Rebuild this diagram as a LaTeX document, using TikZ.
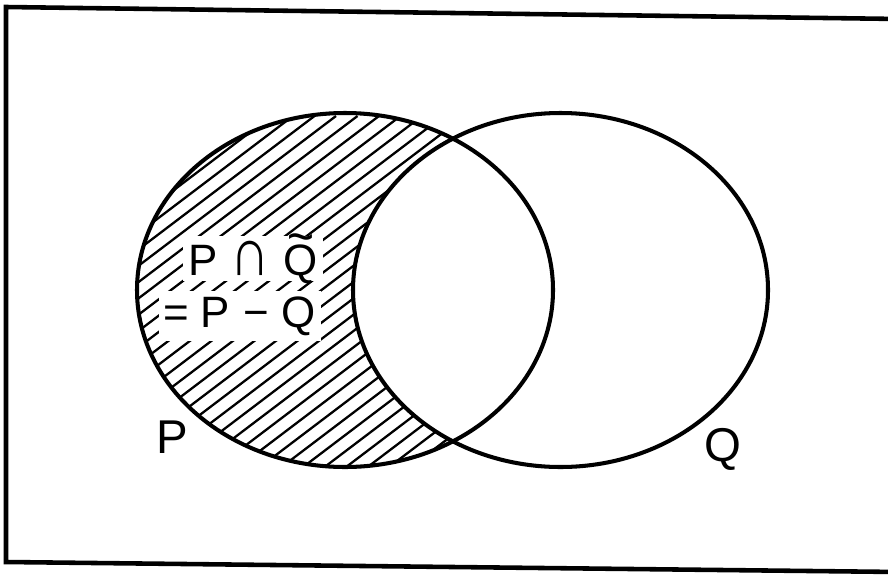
\documentclass[tikz,border=0pt]{standalone}
\usepackage{fontspec}
\setmainfont{Liberation Sans}
\newcommand{\bigcapglyph}{\raisebox{-0.02em}{\scalebox{1.25}[1.55]{∩}}}
\newcommand{\tildeQ}{\ooalign{Q\cr\hidewidth\raisebox{0.47em}{\scalebox{1.05}[1.2]{\char"7E}}\hidewidth\cr}}
\begin{document}
\begin{tikzpicture}[x=0.02cm,y=-0.02cm,
  outline/.style={line width=2.3pt},
  hatch/.style={line width=1.3pt},
  lbl/.style={font=\fontsize{27}{30}\selectfont, inner sep=0pt},
  formula/.style={font=\fontsize{25}{28}\selectfont, fill=white, inner sep=3pt}]
\useasboundingbox (0,0) rectangle (888,575);
\clip (0,0) rectangle (888,575);
% frame
\draw[outline, line width=2.6pt] (900,19) -- (6,7) -- (6,562) -- (900,572);
% hatching of P - Q
\begin{scope}
  \clip (345,290) ellipse [x radius=208, y radius=177];
  \begin{scope}[even odd rule]
    \clip (0,0) rectangle (888,575) (560.5,290) ellipse [x radius=207.5, y radius=177];
    \foreach \i in {-30,...,30} {
      \draw[hatch] (\i*21.5+200,480) -- ++(480,-364);
    }
  \end{scope}
\end{scope}
% circles
\draw[outline] (345,290) ellipse [x radius=208, y radius=177];
\draw[outline] (560.5,290) ellipse [x radius=207.5, y radius=177];
% texts
\node[formula, anchor=base] (f1) at (253,275) {P\hspace{0.3em}\bigcapglyph\hspace{0.3em}\tildeQ};
\node[formula, anchor=base] (f2) at (240,327) {=\hspace{0.25em}P\hspace{0.3em}−\hspace{0.3em}Q};
\node[lbl, anchor=base] (p) at (172,453) {P};
\node[lbl, anchor=base] (q) at (723,461) {Q};
\end{tikzpicture}
\end{document}
